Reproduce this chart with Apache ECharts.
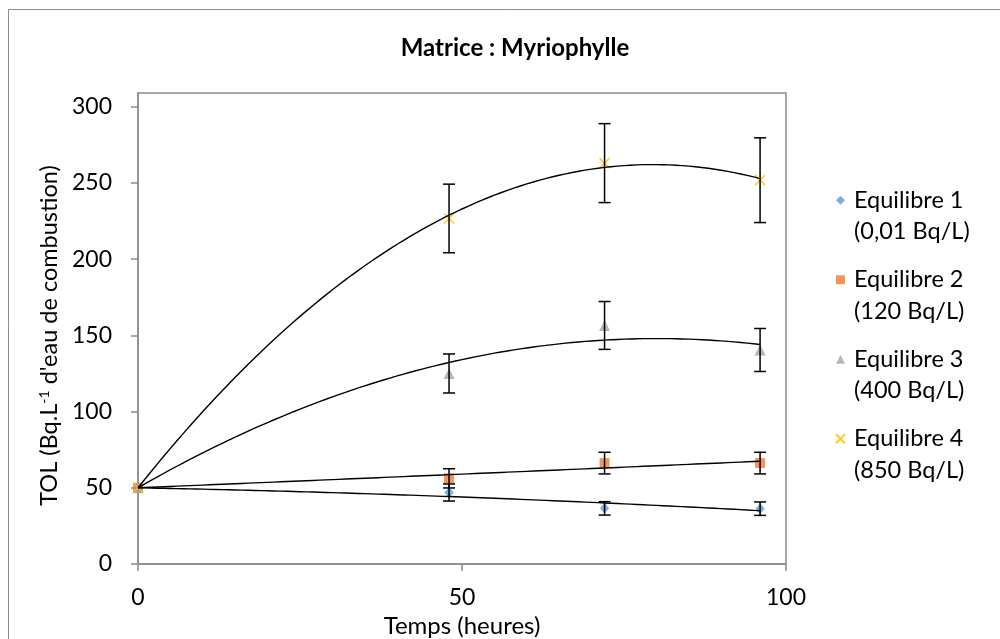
<!DOCTYPE html>
<html>
<head>
<meta charset="utf-8">
<script src="https://cdn.jsdelivr.net/npm/echarts@6/dist/echarts.min.js"></script>
<style>html,body{margin:0;padding:0;background:#fff}#c{width:1000px;height:639px}</style>
</head>
<body>
<div id="c"></div>
<script>
// ---- data ----
const timeHours = [0, 48, 72, 96];
const seriesNames = ['Equilibre 1', 'Equilibre 2', 'Equilibre 3', 'Equilibre 4'];
const seriesConc = ['(0,01 Bq/L)', '(120 Bq/L)', '(400 Bq/L)', '(850 Bq/L)'];
const eq1 = [50, 46.9, 36.5, 36.3];
const eq1Err = [0, 5.6, 4.4, 4.4];
const eq2 = [50, 56.2, 66.2, 66.2];
const eq2Err = [0, 6.3, 7.1, 7.1];
const eq3 = [50, 125, 156.5, 140.4];
const eq3Err = [0, 12.8, 15.7, 14.1];
const eq4 = [50, 226.7, 263, 251.8];
const eq4Err = [0, 22.5, 25.9, 27.8];
const yTicks = [0, 50, 100, 150, 200, 250, 300];
const xTicks = [0, 50, 100];
const trendIntercept = 50; // trendlines forced through the common start value

const values = [eq1, eq2, eq3, eq4];
const errors = [eq1Err, eq2Err, eq3Err, eq4Err];
const colors = ['#5B9BD5', '#ED7D31', '#A5A5A5', '#FFC000'];
const symbols = ['diamond', 'rect', 'triangle', 'path://M0,0L10,10M10,0L0,10'];
const symbolSizes = [[9, 11], 10, 11, 10];

// Least-squares 2nd-order polynomial trendline with fixed intercept (as in the spreadsheet)
function fitQuad(xs, ys, y0) {
  let s2 = 0, s3 = 0, s4 = 0, sxy = 0, sx2y = 0;
  for (let i = 0; i < xs.length; i++) {
    const x = xs[i], d = ys[i] - y0;
    s2 += x * x; s3 += x * x * x; s4 += x * x * x * x;
    sxy += x * d; sx2y += x * x * d;
  }
  const det = s2 * s4 - s3 * s3;
  const b = (sxy * s4 - s3 * sx2y) / det;
  const c = (s2 * sx2y - s3 * sxy) / det;
  return x => y0 + b * x + c * x * x;
}

const font = 'Lato, "Open Sans", sans-serif';
const series = [];
values.forEach((vals, k) => {
  const isX = k === 3;
  series.push({
    name: seriesNames[k] + '\n' + seriesConc[k],
    type: 'scatter',
    symbol: symbols[k],
    symbolSize: symbolSizes[k],
    z: 2,
    itemStyle: isX ? { color: 'rgba(0,0,0,0)', borderColor: colors[k], borderWidth: 1.6 } : { color: colors[k] },
    data: timeHours.map((t, i) => [t, vals[i]])
  });
});
values.forEach((vals, k) => {
  series.push({
    type: 'custom',
    z: 3,
    silent: true,
    data: timeHours.map((t, i) => [t, vals[i] - errors[k][i], vals[i] + errors[k][i]]).filter((d, i) => errors[k][i] > 0),
    renderItem: function (params, api) {
      const lo = api.coord([api.value(0), api.value(1)]);
      const hi = api.coord([api.value(0), api.value(2)]);
      const w = 6;
      const st = { stroke: '#000', lineWidth: 1.5 };
      return {
        type: 'group',
        children: [
          { type: 'line', shape: { x1: lo[0], y1: lo[1], x2: hi[0], y2: hi[1] }, style: st },
          { type: 'line', shape: { x1: lo[0] - w, y1: lo[1], x2: lo[0] + w, y2: lo[1] }, style: st },
          { type: 'line', shape: { x1: hi[0] - w, y1: hi[1], x2: hi[0] + w, y2: hi[1] }, style: st }
        ]
      };
    }
  });
});
values.forEach((vals, k) => {
  const f = fitQuad(timeHours, vals, trendIntercept);
  const pts = [];
  const xEnd = timeHours[timeHours.length - 1];
  for (let x = 0; x <= xEnd; x += 1) pts.push([x, f(x)]);
  series.push({
    type: 'line',
    z: 4,
    silent: true,
    showSymbol: false,
    symbol: 'none',
    lineStyle: { color: '#000', width: 1.4 },
    data: pts
  });
});

const chart = echarts.init(document.getElementById('c'), null, { renderer: 'canvas' });
chart.setOption({
  backgroundColor: '#fff',
  animation: false,
  title: {
    text: 'Matrice : Myriophylle',
    left: 510, top: 31, textAlign: 'center',
    textStyle: { fontFamily: font, fontWeight: 'bold', fontSize: 24, color: '#000' }
  },
  graphic: [{
    type: 'rect', shape: { x: 8.5, y: 9.5, width: 1010, height: 650 },
    style: { fill: 'none', stroke: '#8c8c8c', lineWidth: 1 }, z: -10
  }],
  grid: {
    left: 138, right: 214, top: 93, bottom: 75,
    outerBoundsMode: 'none', containLabel: false,
    show: true, borderColor: '#8c8c8c', borderWidth: 1.5, backgroundColor: 'transparent'
  },
  legend: {
    orient: 'vertical',
    left: 835, top: 153,
    padding: 0,
    itemGap: -15,
    itemWidth: 9, itemHeight: 9,
    data: seriesNames.map((n, k) => n + '\n' + seriesConc[k]),
    formatter: n => '\n' + n,
    textStyle: { fontFamily: font, fontSize: 23.5, color: '#000', lineHeight: 31.5, padding: [0, 0, 0, 4] }
  },
  xAxis: {
    type: 'value', min: 0, max: 100, interval: 50,
    name: 'Temps (heures)', nameLocation: 'middle', nameGap: 47,
    nameTextStyle: { fontFamily: font, fontSize: 24, color: '#000' },
    axisLine: { show: true, lineStyle: { color: '#8c8c8c', width: 1.5 } },
    axisTick: { show: true, length: 7, lineStyle: { color: '#8c8c8c', width: 1.5 }, customValues: xTicks },
    axisLabel: { fontFamily: font, fontSize: 23, color: '#000', margin: 22, customValues: xTicks },
    splitLine: { show: false }
  },
  yAxis: {
    type: 'value', min: 0, max: 309,
    name: "TOL (Bq.L{sup|-1} d'eau de combustion)", nameLocation: 'middle', nameGap: 72, nameRotate: 90,
    nameTextStyle: {
      fontFamily: font, fontSize: 23.5, color: '#000', padding: [0, 14, 0, 0],
      rich: { sup: { fontFamily: font, fontSize: 14, color: '#000', verticalAlign: 'top', lineHeight: 14 } }
    },
    axisLine: { show: true, lineStyle: { color: '#8c8c8c', width: 1.5 } },
    axisTick: { show: true, length: 7, lineStyle: { color: '#8c8c8c', width: 1.5 }, customValues: yTicks },
    axisLabel: { fontFamily: font, fontSize: 23, color: '#000', margin: 26, customValues: yTicks },
    splitLine: { show: false }
  },
  series: series
});
</script>
</body>
</html>
